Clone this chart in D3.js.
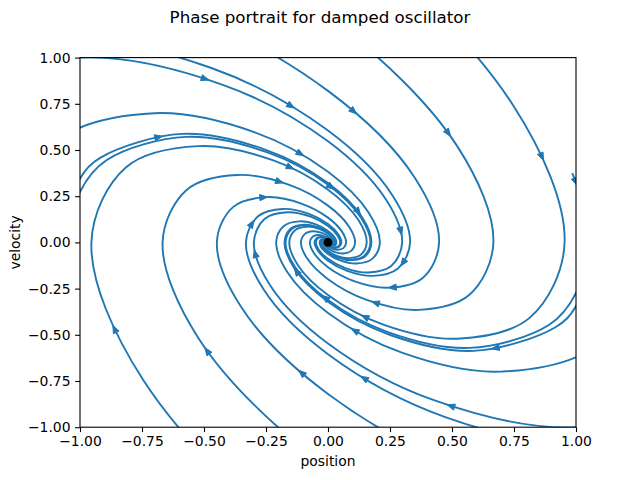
<!DOCTYPE html>
<html>
<head>
<meta charset="utf-8">
<script src="https://cdn.jsdelivr.net/npm/d3@7"></script>
<style>
body { margin: 0; background: #ffffff; }
svg { font-family: "DejaVu Sans", sans-serif; }
</style>
</head>
<body>
<svg id="chart" width="640" height="480"></svg>
<script>
// tick values on both axes
const ticks = [-1, -0.75, -0.5, -0.25, 0, 0.25, 0.5, 0.75, 1];

// streamlines, [position, velocity], in flow order
const lineCornerTL = [[-1.562, 0.781], [-1.000, 1.000], [-0.427, 0.854], [0, 0.547], [0.233, 0.233], [0.299, 0], [0.255, -0.128], [0.163, -0.163], [0.070, -0.139], [0, -0.089], [-0.038, -0.038], [-0.049, 0], [-0.042, 0.021], [-0.027, 0.027], [-0.011, 0.023], [0, 0.015]];
const lineTop1 = [[-1.729, 0.865], [-1.107, 1.107], [-0.473, 0.945], [0, 0.605], [0.258, 0.258], [0.331, 0], [0.282, -0.141], [0.181, -0.181], [0.077, -0.154], [0, -0.099], [-0.042, -0.042], [-0.054, 0], [-0.046, 0.023], [-0.030, 0.030], [-0.013, 0.025], [0, 0.016], [0.007, 0.007]];
const lineTop2 = [[-1.501, 1.501], [-0.640, 1.281], [0, 0.820], [0.350, 0.350], [0.448, 0], [0.383, -0.191], [0.245, -0.245], [0.105, -0.209], [0, -0.134], [-0.057, -0.057], [-0.073, 0], [-0.062, 0.031], [-0.040, 0.040], [-0.017, 0.034], [0, 0.022], [0.009, 0.009], [0.012, 0]];
const lineTop3 = [[-0.953, 1.906], [0, 1.220], [0.521, 0.521], [0.667, 0], [0.569, -0.285], [0.365, -0.365], [0.156, -0.311], [0, -0.199], [-0.085, -0.085], [-0.109, 0], [-0.093, 0.046], [-0.060, 0.060], [-0.025, 0.051], [0, 0.033], [0.014, 0.014], [0.018, 0], [0.015, -0.008]];
const lineTop4 = [[-1.363, 2.726], [0, 1.745], [0.745, 0.745], [0.954, 0], [0.814, -0.407], [0.521, -0.521], [0.223, -0.445], [0, -0.285], [-0.122, -0.122], [-0.156, 0], [-0.133, 0.066], [-0.085, 0.085], [-0.036, 0.073], [0, 0.047], [0.020, 0.020], [0.025, 0], [0.022, -0.011], [0.014, -0.014]];
const lineLeft1 = [[-1.279, 0], [-1.092, 0.546], [-0.699, 0.699], [-0.298, 0.597], [0, 0.382], [0.163, 0.163], [0.209, 0], [0.178, -0.089], [0.114, -0.114], [0.049, -0.097], [0, -0.062], [-0.027, -0.027], [-0.034, 0], [-0.029, 0.015], [-0.019, 0.019], [-0.008, 0.016]];
const lineLeft2 = [[-1.075, 0], [-0.999, 0.347], [-0.917, 0.459], [-0.587, 0.587], [-0.251, 0.501], [0, 0.321], [0.137, 0.137], [0.175, 0], [0.150, -0.075], [0.096, -0.096], [0.041, -0.082], [0, -0.052], [-0.022, -0.022], [-0.029, 0], [-0.024, 0.012], [-0.016, 0.016], [-0.007, 0.013]];
const lineLeft3 = [[-1.044, 0], [-1.002, 0.268], [-0.892, 0.446], [-0.571, 0.571], [-0.244, 0.487], [0, 0.312], [0.133, 0.133], [0.171, 0], [0.146, -0.073], [0.093, -0.093], [0.040, -0.080], [0, -0.051], [-0.022, -0.022], [-0.028, 0], [-0.024, 0.012], [-0.015, 0.015], [-0.006, 0.013]];
const lineBottom1 = [[1.363, -2.726], [0, -1.745], [-0.745, -0.745], [-0.954, 0], [-0.814, 0.407], [-0.521, 0.521], [-0.223, 0.445], [0, 0.285], [0.122, 0.122], [0.156, 0], [0.133, -0.066], [0.085, -0.085], [0.036, -0.073], [0, -0.047], [-0.020, -0.020], [-0.025, 0], [-0.022, 0.011], [-0.014, 0.014]];
const lineBottom2 = [[0.953, -1.906], [0, -1.220], [-0.521, -0.521], [-0.667, 0], [-0.569, 0.285], [-0.365, 0.365], [-0.156, 0.311], [0, 0.199], [0.085, 0.085], [0.109, 0], [0.093, -0.046], [0.060, -0.060], [0.025, -0.051], [0, -0.033], [-0.014, -0.014], [-0.018, 0], [-0.015, 0.008]];
const lineBottom3 = [[1.501, -1.501], [0.640, -1.281], [0, -0.820], [-0.350, -0.350], [-0.448, 0], [-0.383, 0.191], [-0.245, 0.245], [-0.105, 0.209], [0, 0.134], [0.057, 0.057], [0.073, 0], [0.062, -0.031], [0.040, -0.040], [0.017, -0.034], [0, -0.022], [-0.009, -0.009], [-0.012, 0]];
const lineBottom4 = [[1.729, -0.865], [1.107, -1.107], [0.473, -0.945], [0, -0.605], [-0.258, -0.258], [-0.331, 0], [-0.282, 0.141], [-0.181, 0.181], [-0.077, 0.154], [0, 0.099], [0.042, 0.042], [0.054, 0], [0.046, -0.023], [0.030, -0.030], [0.013, -0.025], [0, -0.016], [-0.007, -0.007]];
const lineCornerBR = [[1.562, -0.781], [1.000, -1.000], [0.427, -0.854], [0, -0.547], [-0.233, -0.233], [-0.299, 0], [-0.255, 0.128], [-0.163, 0.163], [-0.070, 0.139], [0, 0.089], [0.038, 0.038], [0.049, 0], [0.042, -0.021], [0.027, -0.027], [0.011, -0.023], [0, -0.015]];
const lineRight1 = [[1.279, 0], [1.092, -0.546], [0.699, -0.699], [0.298, -0.597], [0, -0.382], [-0.163, -0.163], [-0.209, 0], [-0.178, 0.089], [-0.114, 0.114], [-0.049, 0.097], [0, 0.062], [0.027, 0.027], [0.034, 0], [0.029, -0.015], [0.019, -0.019], [0.008, -0.016]];
const lineRight2 = [[1.075, 0], [0.999, -0.347], [0.917, -0.459], [0.587, -0.587], [0.251, -0.501], [0, -0.321], [-0.137, -0.137], [-0.175, 0], [-0.150, 0.075], [-0.096, 0.096], [-0.041, 0.082], [0, 0.052], [0.022, 0.022], [0.029, 0], [0.024, -0.012], [0.016, -0.016], [0.007, -0.013]];
const lineRight3 = [[1.044, 0], [1.002, -0.268], [0.892, -0.446], [0.571, -0.571], [0.244, -0.487], [0, -0.312], [-0.133, -0.133], [-0.171, 0], [-0.146, 0.073], [-0.093, 0.093], [-0.040, 0.080], [0, 0.051], [0.022, 0.022], [0.028, 0], [0.024, -0.012], [0.015, -0.015], [0.006, -0.013]];
const lineStub = [[0.985, 0.375], [1.010, 0.290]];

const streamlines = [lineCornerTL, lineTop1, lineTop2, lineTop3, lineTop4,
    lineLeft1, lineLeft2, lineLeft3, lineBottom1, lineBottom2, lineBottom3,
    lineBottom4, lineCornerBR, lineRight1, lineRight2, lineRight3, lineStub];

// where the arrow heads sit
const arrowPoints = [[-0.496, 0.889], [-0.149, 0.737], [0.101, 0.705], [0.480, 0.591], [0.859, 0.461],
    [-0.685, 0.575], [-0.113, 0.482], [-0.153, 0.407], [-0.194, 0.331], [-0.262, 0.249],
    [-0.315, 0.108], [-0.294, -0.060], [-0.129, -0.163], [-0.012, -0.304], [-0.859, -0.466],
    [-0.484, -0.585], [-0.109, -0.710], [0.306, -0.114], [0.262, -0.249], [0.190, -0.331],
    [0.145, -0.412], [0.105, -0.482], [0.677, -0.575], [0.145, -0.737], [0.496, -0.889],
    [0.008, 0.298], [0.121, 0.163], [0.294, 0.065], [0.998, 0.330]];

const fixedPoint = [0, 0];

const color = "#1f77b4";
var margin = { top: 57.6, right: 64, bottom: 52.8, left: 80 },
    width = 640 - margin.left - margin.right,
    height = 480 - margin.top - margin.bottom;

const svg = d3.select("#chart");

var x = d3.scaleLinear().domain([-1, 1]).range([margin.left, margin.left + width]);
var y = d3.scaleLinear().domain([-1, 1]).range([margin.top + height, margin.top]);

svg.append("defs").append("clipPath").attr("id", "plotclip")
    .append("rect")
    .attr("x", margin.left).attr("y", margin.top)
    .attr("width", width).attr("height", height);

const plot = svg.append("g").attr("clip-path", "url(#plotclip)");

var line = d3.line()
    .x(function (d) { return x(d[0]); })
    .y(function (d) { return y(d[1]); })
    .curve(d3.curveCatmullRom.alpha(0.5));

const paths = plot.selectAll("path.stream")
    .data(streamlines)
    .enter().append("path")
    .attr("class", "stream")
    .attr("fill", "none")
    .attr("stroke", color)
    .attr("stroke-width", 1.9)
    .attr("stroke-linecap", "butt")
    .attr("d", line);

// sample every path once, arrows snap to the closest sample
var samples = [];
paths.each(function () {
    const total = this.getTotalLength();
    const pts = [];
    for (let l = 0; l <= total; l += 1) {
        const p = this.getPointAtLength(l);
        pts.push([p.x, p.y]);
    }
    samples.push(pts);
});

function arrowHead(px, py) {
    let best = null, bestD = Infinity;
    samples.forEach(function (pts) {
        for (let i = 2; i < pts.length - 2; i++) {
            const dx = pts[i][0] - px, dy = pts[i][1] - py;
            const d = dx * dx + dy * dy;
            if (d < bestD) { bestD = d; best = { pts: pts, i: i }; }
        }
    });
    const p = best.pts[best.i];
    const a = best.pts[best.i - 2], b = best.pts[best.i + 2];
    let ux = b[0] - a[0], uy = b[1] - a[1];
    const n = Math.hypot(ux, uy) || 1;
    ux /= n; uy /= n;
    const tip = [p[0] + ux * 4.2, p[1] + uy * 4.2];
    const l = [p[0] - ux * 3.6 - uy * 3.1, p[1] - uy * 3.6 + ux * 3.1];
    const r = [p[0] - ux * 3.6 + uy * 3.1, p[1] - uy * 3.6 - ux * 3.1];
    return [tip, l, r];
}

plot.selectAll("path.arrow")
    .data(arrowPoints)
    .enter().append("path")
    .attr("class", "arrow")
    .attr("fill", color)
    .attr("stroke", color)
    .attr("stroke-width", 1)
    .attr("stroke-linejoin", "miter")
    .attr("d", function (d) {
        return "M" + arrowHead(x(d[0]), y(d[1])).map(function (q) { return q.join(","); }).join("L") + "Z";
    });

// fixed point at the origin
svg.append("circle")
    .attr("cx", x(fixedPoint[0]))
    .attr("cy", y(fixedPoint[1]))
    .attr("r", 4.4)
    .attr("fill", "#000000");

// axes
const fmt = d3.format(".2f");
const xAxis = svg.append("g")
    .attr("transform", "translate(0," + (margin.top + height) + ")")
    .call(d3.axisBottom(x).tickValues(ticks).tickFormat(fmt).tickSizeOuter(0).tickSize(4.9).tickPadding(4.2));
const yAxis = svg.append("g")
    .attr("transform", "translate(" + margin.left + ",0)")
    .call(d3.axisLeft(y).tickValues(ticks).tickFormat(fmt).tickSizeOuter(0).tickSize(4.9).tickPadding(4.6));

[xAxis, yAxis].forEach(function (g) {
    g.select(".domain").remove();
    g.selectAll(".tick line").attr("stroke", "#000").attr("stroke-width", 1.1);
    g.selectAll(".tick text").attr("fill", "#000").style("font-size", "13.9px")
        .style("font-family", "'DejaVu Sans', sans-serif");
});

// spines
svg.append("rect")
    .attr("x", margin.left).attr("y", margin.top)
    .attr("width", width).attr("height", height)
    .attr("fill", "none").attr("stroke", "#000").attr("stroke-width", 1.1);

svg.append("text")
    .attr("x", 320).attr("y", 23)
    .attr("text-anchor", "middle")
    .style("font-size", "16.7px")
    .text("Phase portrait for damped oscillator");

svg.append("text")
    .attr("x", margin.left + width / 2).attr("y", 466)
    .attr("text-anchor", "middle")
    .style("font-size", "13.9px")
    .text("position");

svg.append("text")
    .attr("transform", "translate(20," + (margin.top + height / 2) + ") rotate(-90)")
    .attr("text-anchor", "middle")
    .style("font-size", "13.9px")
    .text("velocity");
</script>
</body>
</html>
